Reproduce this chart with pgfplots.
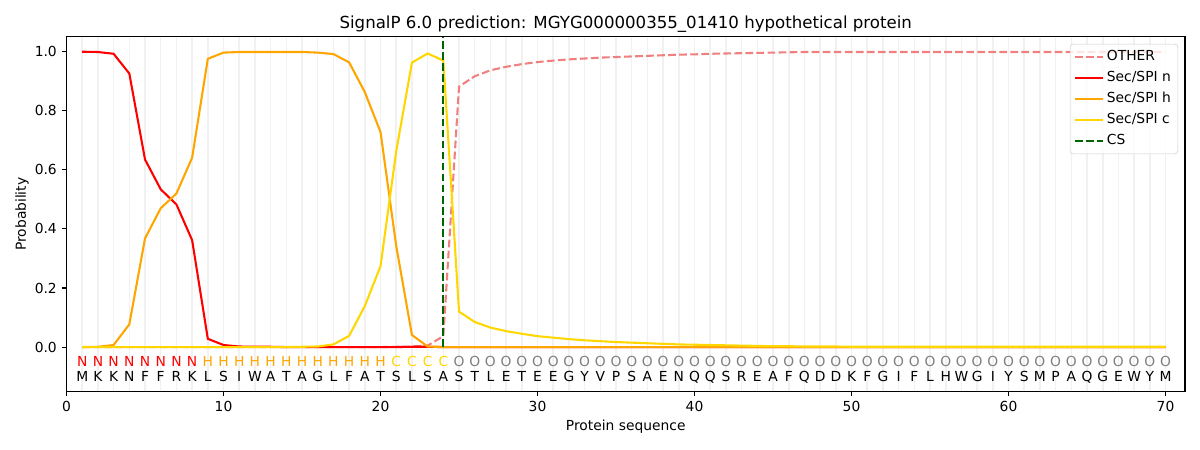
\documentclass[border=0pt]{standalone}
\usepackage{fontspec}
\setmainfont{DejaVu Sans}
\usepackage{pgfplots}
\usepackage{pgfplotstable}
\pgfplotsset{compat=1.18}
\definecolor{labN}{HTML}{FF0000}
\definecolor{labH}{HTML}{FFA500}
\definecolor{labC}{HTML}{FFD700}
\definecolor{labO}{HTML}{808080}
\definecolor{cOther}{HTML}{F08080}
\definecolor{cCS}{HTML}{006400}
\definecolor{gridc}{RGB}{241,241,241}

\pgfplotstableread{
x y
1 0.000
2 0.000
3 0.000
4 0.000
5 0.000
6 0.000
7 0.000
8 0.000
9 0.000
10 0.000
11 0.000
12 0.000
13 0.000
14 0.000
15 0.000
16 0.000
17 0.000
18 0.000
19 0.000
20 0.000
21 0.001
22 0.002
23 0.005
24 0.037
25 0.882
26 0.917
27 0.937
28 0.949
29 0.958
30 0.965
31 0.970
32 0.974
33 0.977
34 0.980
35 0.982
36 0.984
37 0.986
38 0.988
39 0.990
40 0.991
41 0.993
42 0.994
43 0.995
44 0.996
45 0.997
46 0.998
47 0.999
48 0.999
49 0.999
50 0.999
51 0.999
52 0.999
53 0.999
54 0.999
55 0.999
56 0.999
57 0.999
58 0.999
59 0.999
60 0.999
61 0.999
62 0.999
63 0.999
64 0.999
65 0.999
66 0.999
67 0.999
68 0.999
69 0.999
70 0.999
}\tOther

\pgfplotstableread{
x y
1 1.000
2 0.999
3 0.993
4 0.926
5 0.635
6 0.534
7 0.483
8 0.362
9 0.028
10 0.007
11 0.002
12 0.001
13 0.001
14 0.000
15 0.000
16 0.000
17 0.000
18 0.000
19 0.000
20 0.000
21 0.000
22 0.001
23 0.001
24 0.000
25 0.000
26 0.000
27 0.000
28 0.000
29 0.000
30 0.000
31 0.000
32 0.000
33 0.000
34 0.000
35 0.000
36 0.000
37 0.000
38 0.000
39 0.000
40 0.000
41 0.000
42 0.000
43 0.000
44 0.000
45 0.000
46 0.000
47 0.000
48 0.000
49 0.000
50 0.000
51 0.000
52 0.000
53 0.000
54 0.000
55 0.000
56 0.000
57 0.000
58 0.000
59 0.000
60 0.000
61 0.000
62 0.000
63 0.000
64 0.000
65 0.000
66 0.000
67 0.000
68 0.000
69 0.000
70 0.000
}\tN

\pgfplotstableread{
x y
1 0.000
2 0.001
3 0.007
4 0.077
5 0.368
6 0.470
7 0.520
8 0.641
9 0.976
10 0.997
11 0.999
12 0.999
13 0.999
14 0.999
15 0.999
16 0.997
17 0.992
18 0.964
19 0.863
20 0.728
21 0.342
22 0.041
23 0.002
24 0.000
25 0.000
26 0.000
27 0.000
28 0.000
29 0.000
30 0.000
31 0.000
32 0.000
33 0.000
34 0.000
35 0.000
36 0.000
37 0.000
38 0.000
39 0.000
40 0.000
41 0.000
42 0.000
43 0.000
44 0.000
45 0.000
46 0.000
47 0.000
48 0.000
49 0.000
50 0.000
51 0.000
52 0.000
53 0.000
54 0.000
55 0.000
56 0.000
57 0.000
58 0.000
59 0.000
60 0.000
61 0.000
62 0.000
63 0.000
64 0.000
65 0.000
66 0.000
67 0.000
68 0.000
69 0.000
70 0.000
}\tH

\pgfplotstableread{
x y
1 0.000
2 0.000
3 0.000
4 0.000
5 0.000
6 0.000
7 0.000
8 0.000
9 0.000
10 0.000
11 0.000
12 0.000
13 0.000
14 0.000
15 0.001
16 0.002
17 0.009
18 0.038
19 0.139
20 0.274
21 0.663
22 0.963
23 0.994
24 0.970
25 0.120
26 0.085
27 0.066
28 0.054
29 0.045
30 0.037
31 0.032
32 0.027
33 0.023
34 0.020
35 0.017
36 0.015
37 0.013
38 0.011
39 0.009
40 0.008
41 0.007
42 0.006
43 0.005
44 0.004
45 0.003
46 0.003
47 0.002
48 0.002
49 0.002
50 0.001
51 0.001
52 0.001
53 0.001
54 0.001
55 0.001
56 0.001
57 0.001
58 0.001
59 0.001
60 0.001
61 0.001
62 0.001
63 0.001
64 0.001
65 0.001
66 0.001
67 0.001
68 0.001
69 0.001
70 0.001
}\tC

\begin{document}
\fontsize{10}{12}\selectfont
\begin{tikzpicture}
\begin{axis}[
  scale only axis,
  width=805.3bp, height=255.2bp,
  xmin=0, xmax=71.24, ymin=-0.15, ymax=1.05,
  xtick={0,10,...,70},
  ytick={0,0.2,0.4,0.6,0.8,1.0},
  yticklabel style={/pgf/number format/.cd, fixed, fixed zerofill, precision=1},
  /pgf/number format/assume math mode=true,
  xtick pos=left, ytick pos=left,
  tick align=outside,
  major tick length=3.5bp,
  every tick/.style={black, line width=0.8bp},
  axis line style={line width=0.8bp},
  extra x ticks={1,2,...,70},
  extra x tick labels={},
  extra x tick style={grid=major, major tick length=0pt, major grid style={gridc, line width=1.1bp}},
  title={SignalP 6.0 prediction: MGYG000000355\_01410 hypothetical protein},
  title style={font=\fontsize{12}{14}\selectfont, at={(axis description cs:0.5,1)}, anchor=base, yshift=-0.2bp},
  xlabel={Protein sequence},
  xlabel style={at={(axis description cs:0.5,-0.1105)}, anchor=base},
  ylabel={Probability},
  ylabel style={at={(axis description cs:-0.0397,0.5)}, anchor=center},
  legend style={at={(axis description cs:1,1)}, anchor=north east, xshift=-5bp, yshift=-5bp,
    draw={rgb,255:red,204;green,204;blue,204}, rounded corners=2bp, fill=white, fill opacity=0.8, text opacity=1,
    font=\fontsize{10}{12}\selectfont, inner xsep=3bp, inner ysep=2bp,
    nodes={text height=7.5bp, text depth=2.5bp, inner ysep=2.5bp}},
  legend cell align=left,
  legend image code/.code={\draw[#1] (0bp,0bp) -- (20bp,0bp);},
]
\addplot[cOther, line width=1.5bp, dash pattern=on 5.55bp off 2.4bp] table[x=x,y=y] {\tOther};
\addlegendentry{OTHER}
\addplot[labN, line width=1.5bp] table[x=x,y=y] {\tN};
\addlegendentry{Sec/SPI n}
\addplot[labH, line width=1.5bp] table[x=x,y=y] {\tH};
\addlegendentry{Sec/SPI h}
\addplot[labC, line width=1.5bp] table[x=x,y=y] {\tC};
\addlegendentry{Sec/SPI c}
\addplot[cCS, line width=1.5bp, dash pattern=on 5.55bp off 2.4bp] coordinates {(24,0) (24,1.05)};
\addlegendentry{CS}

\foreach \i/\a/\s in {1/M/N,2/K/N,3/K/N,4/N/N,5/F/N,6/F/N,7/R/N,8/K/N,9/L/H,10/S/H,11/I/H,12/W/H,13/A/H,14/T/H,15/A/H,16/G/H,17/L/H,18/F/H,19/A/H,20/T/H,21/S/C,22/L/C,23/S/C,24/A/C,25/S/O,26/T/O,27/L/O,28/E/O,29/T/O,30/E/O,31/E/O,32/G/O,33/Y/O,34/V/O,35/P/O,36/S/O,37/A/O,38/E/O,39/N/O,40/Q/O,41/Q/O,42/S/O,43/R/O,44/E/O,45/A/O,46/F/O,47/Q/O,48/D/O,49/D/O,50/K/O,51/F/O,52/G/O,53/I/O,54/F/O,55/L/O,56/H/O,57/W/O,58/G/O,59/I/O,60/Y/O,61/S/O,62/M/O,63/P/O,64/A/O,65/Q/O,66/G/O,67/E/O,68/W/O,69/Y/O,70/M/O} {
  \edef\temp{\noexpand\node[text=lab\s, anchor=base, inner sep=0pt] at (axis cs:\i,-0.0645) {\s};
    \noexpand\node[anchor=base, inner sep=0pt] at (axis cs:\i,-0.115) {\a};}
  \temp
}
\end{axis}
\pgfresetboundingbox
\useasboundingbox ([shift={(-47.9bp,-42.1bp)}]current axis.south west) rectangle ([shift={(10.8bp,26.6bp)}]current axis.north east);
\end{tikzpicture}
\end{document}
